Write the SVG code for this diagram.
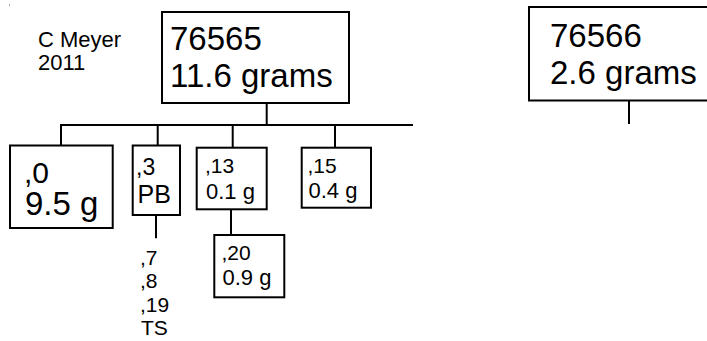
<svg xmlns="http://www.w3.org/2000/svg" width="707" height="341" viewBox="0 0 707 341">
<style>
.box{fill:#fff;stroke:#000;stroke-width:2}
.ln{stroke:#000;stroke-width:2;fill:none}
text{font-family:"Liberation Sans",Arial,sans-serif;fill:#000}
.big{font-size:33px}
.lab{font-size:21px}
.val{font-size:22px}
.col{font-size:21px}
</style>
<rect x="9" y="4" width="1" height="2" fill="#aaa"/>
<g id="connectors">
<line class="ln" x1="266.7" y1="103" x2="266.7" y2="125"/>
<line class="ln" x1="60" y1="125" x2="413" y2="125"/>
<line class="ln" x1="61" y1="125" x2="61" y2="145.5"/>
<line class="ln" x1="157.7" y1="125" x2="157.7" y2="145.5"/>
<line class="ln" x1="232.7" y1="125" x2="232.7" y2="147.7"/>
<line class="ln" x1="335" y1="125" x2="335" y2="147.7"/>
<line class="ln" x1="231" y1="209.3" x2="231" y2="235"/>
<line class="ln" x1="156" y1="215" x2="156" y2="238.3"/>
<line class="ln" x1="629" y1="100.7" x2="629" y2="124"/>
</g>
<g id="author">
<text x="38" y="47" font-size="22">C Meyer</text>
<text x="38" y="70" font-size="22">2011</text>
</g>
<g id="n76565">
<rect class="box" x="162" y="12" width="187" height="91"/>
<text class="big" x="170" y="50">76565</text>
<text class="big" x="170" y="87">11.6 grams</text>
</g>
<g id="n76566">
<rect class="box" x="529" y="7" width="200" height="93.5"/>
<text class="big" x="550" y="47">76566</text>
<text class="big" x="550" y="84">2.6 grams</text>
</g>
<g id="n0">
<rect class="box" x="10" y="145.5" width="102.7" height="82.5"/>
<text x="24" y="183" font-size="30">,0</text>
<text class="big" x="25" y="215">9.5 g</text>
</g>
<g id="n3">
<rect class="box" x="132.7" y="145.5" width="47.3" height="69.5"/>
<text x="136" y="175" font-size="23">,3</text>
<text x="137.5" y="203" font-size="25">PB</text>
</g>
<g id="n13">
<rect class="box" x="196.7" y="147.7" width="70" height="61.6"/>
<text class="lab" x="205" y="173">,13</text>
<text class="val" x="206" y="199">0.1 g</text>
</g>
<g id="n15">
<rect class="box" x="301.7" y="147.7" width="69.3" height="60"/>
<text class="lab" x="307.5" y="172.5">,15</text>
<text class="val" x="308.5" y="197.5">0.4 g</text>
</g>
<g id="n20">
<rect class="box" x="214.3" y="235" width="70" height="62.3"/>
<text class="lab" x="221.5" y="259.5">,20</text>
<text class="val" x="222.5" y="284.5">0.9 g</text>
</g>
<g id="list3">
<text class="col" x="140" y="265">,7</text>
<text class="col" x="140" y="288">,8</text>
<text class="col" x="140" y="311.5">,19</text>
<text class="col" x="141" y="334.5">TS</text>
</g>
</svg>
